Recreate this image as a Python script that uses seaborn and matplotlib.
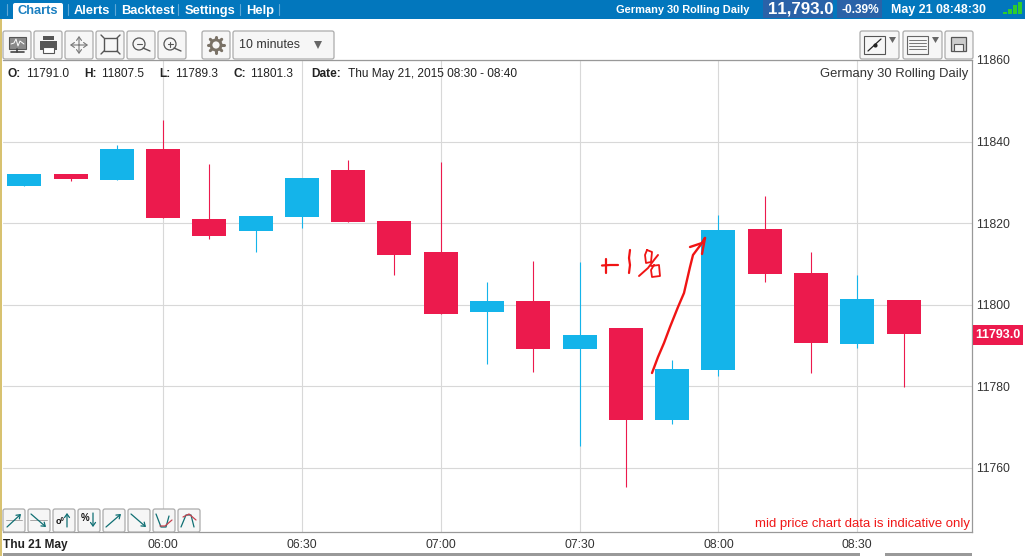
import pandas as pd
import seaborn as sns
from matplotlib import pyplot as plt
from matplotlib.patches import FancyBboxPatch, Rectangle, Circle, Polygon

# minutes from 06:00
minutes = [-30, -20, -10, 0, 10, 20, 30, 40, 50, 60, 70, 80, 90, 100, 110, 120, 130, 140, 150, 160]
opens = [11829.0, 11832.0, 11830.6, 11838.2, 11821.0, 11818.1, 11821.5, 11833.0, 11820.5, 11813.0,
         11798.2, 11800.9, 11789.2, 11794.3, 11771.8, 11784.0, 11818.6, 11807.8, 11790.4, 11801.2]
highs = [11832.0, 11832.1, 11839.2, 11845.3, 11834.5, 11821.8, 11831.1, 11835.5, 11820.5, 11835.0,
         11805.6, 11810.7, 11810.5, 11794.3, 11786.5, 11822.0, 11826.7, 11813.0, 11807.3, 11801.2]
lows = [11829.0, 11830.3, 11830.6, 11821.3, 11816.1, 11812.9, 11818.8, 11820.3, 11807.3, 11797.7,
        11785.5, 11783.5, 11765.4, 11755.3, 11770.8, 11782.5, 11805.6, 11783.3, 11789.4, 11779.9]
closes = [11832.0, 11830.8, 11838.2, 11821.3, 11816.9, 11821.8, 11831.1, 11820.3, 11812.2, 11797.7,
          11800.9, 11789.2, 11792.6, 11771.8, 11784.3, 11818.3, 11807.5, 11790.6, 11801.4, 11792.8]

x_ticks = [0, 30, 60, 90, 120, 150]
x_labels = ['06:00', '06:30', '07:00', '07:30', '08:00', '08:30']
y_ticks = [11760, 11780, 11800, 11820, 11840, 11860]

BLUE = '#14b4ea'
RED = '#ec1a4d'
FONT = 'Liberation Sans'

sns.set_style('white')
plt.rcParams['font.family'] = FONT
plt.rcParams['text.kerning_factor'] = 6

df = pd.DataFrame({'t': minutes, 'o': opens, 'h': highs, 'l': lows, 'c': closes})
df['bottom'] = df[['o', 'c']].min(axis=1)
df['size'] = (df['c'] - df['o']).abs()
df['up'] = df['c'] >= df['o']

fig = plt.figure(figsize=(10.25, 5.56), dpi=100)
ax = fig.add_axes([3 / 1025, 1 - 532 / 556, 969 / 1025, 472 / 556])

# candle bodies and wicks
for up, color in [(True, BLUE), (False, RED)]:
    part = df[df['up'] == up]
    ax.vlines(part['t'], part['l'], part['h'], color=color, lw=0.8, zorder=2)
    sns.barplot(data=part, x='t', y='size', bottom=part['bottom'].values, native_scale=True,
                width=7.35 / part['t'].diff().min(), color=color, saturation=1, errorbar=None,
                linewidth=0, ax=ax, zorder=3)

ax.set_xlim(-34.6, 174.8)
ax.set_ylim(11744.3, 11860)
ax.set_xticks(x_ticks, x_labels)
ax.set_yticks(y_ticks)
ax.yaxis.tick_right()
ax.set_xlabel('')
ax.set_ylabel('')
ax.grid(True, color='#d8d8d8', lw=0.8)
ax.set_axisbelow(True)
ax.tick_params(axis='both', length=0, labelsize=8.8, colors='#333333')
ax.tick_params(axis='x', pad=5)
ax.tick_params(axis='y', pad=3)
for s in ax.spines.values():
    s.set_color('#999999')
    s.set_linewidth(0.9)
ax.spines['left'].set_visible(False)

# overlay in pixel coordinates for the trading platform chrome
ui = fig.add_axes([0, 0, 1, 1], facecolor='none', zorder=5)
ui.set_xlim(0, 1025)
ui.set_ylim(556, 0)
ui.axis('off')


def label(x, y, s, size=8.6, color='#222222', weight='normal', ha='left'):
    ui.text(x, y, s, fontsize=size, color=color, fontweight=weight, ha=ha, va='center', family=FONT)


def button(x0, x1, y0, y1):
    ui.add_patch(FancyBboxPatch((x0 + 2, y0 + 2), x1 - x0 - 4, y1 - y0 - 4, boxstyle='round,pad=2',
                                fc='#f6f6f6', ec='#ababab', lw=0.9))


def line(xs, ys, color='#555555', lw=1.0):
    ui.plot(xs, ys, color=color, lw=lw, solid_capstyle='round')


def arrow(x0, y0, x1, y1, color='#0f6f73', lw=0.9):
    ui.annotate('', xy=(x1, y1), xytext=(x0, y0),
                arrowprops=dict(arrowstyle='->,head_length=0.25,head_width=0.18', color=color, lw=lw,
                                shrinkA=0, shrinkB=0))


# top bar
ui.add_patch(Rectangle((0, 0), 1025, 19, fc='#0277bd', ec='none'))
ui.add_patch(FancyBboxPatch((15, 5), 46, 16, boxstyle='round,pad=2', fc='white', ec='none'))
ui.add_patch(Rectangle((0, 19), 1025, 12, fc='white', ec='none'))
label(18, 11, 'Charts', 9.3, '#1a7fc0', 'bold')
for x, s in [(74, 'Alerts'), (121, 'Backtest'), (185, 'Settings'), (246, 'Help')]:
    label(x, 11, s, 9.3, 'white', 'bold')
for x in [7, 68, 115, 178, 240, 279]:
    line([x, x], [4, 15], '#5fa8d6', 0.8)
label(616, 10, 'Germany 30 Rolling Daily', 7.9, 'white', 'bold')
ui.add_patch(Rectangle((763, 0), 70, 18, fc='#2a62a8', ec='none'))
ui.add_patch(Rectangle((837, 0), 45, 18, fc='#2a62a8', ec='none'))
label(768, 9, '11,793.0', 12.2, 'white', 'bold')
label(842, 10, '-0.39%', 8.6, 'white', 'bold')
label(891, 10, 'May 21 08:48:30', 8.9, 'white', 'bold')
for i, h in enumerate([2, 5, 9, 12]):
    ui.add_patch(Rectangle((1003 + i * 5, 14 - h), 3.5, h, fc='#2ecc2e', ec='none'))
# gold strip on the left edge
ui.add_patch(Rectangle((0, 19), 2, 537, fc='#d8c270', ec='none'))

# upper toolbar
for x0, x1 in [(3, 31), (34, 62), (65, 93), (96, 124), (127, 155), (158, 186), (202, 230), (233, 334),
               (860, 899), (903, 942), (945, 973)]:
    button(x0, x1, 31, 59)
# monitor
ui.add_patch(Rectangle((9, 37), 17, 12, fc='#8a8a8a', ec='#555555', lw=0.8))
line([11, 14, 16, 18, 20, 24], [44, 43, 39, 46, 41, 44], 'white', 0.7)
line([17, 17], [49, 52], '#444444', 1.2)
line([11, 24], [52, 52], '#444444', 1.2)
# printer
ui.add_patch(Rectangle((40, 41), 17, 9, fc='#555555', ec='none'))
ui.add_patch(Rectangle((43, 36), 11, 4, fc='#555555', ec='none'))
ui.add_patch(Rectangle((43, 47), 11, 6, fc='white', ec='#555555', lw=0.8))
# move
arrow(79, 45, 70, 45, '#777777', 0.8)
arrow(79, 45, 88, 45, '#777777', 0.8)
arrow(79, 45, 79, 36, '#777777', 0.8)
arrow(79, 45, 79, 54, '#777777', 0.8)
# fit
ui.add_patch(Rectangle((104, 38), 13, 13, fc='none', ec='#555555', lw=1))
for xs, ys in [([101, 104], [35, 38]), ([120, 117], [35, 38]), ([101, 104], [54, 51]), ([120, 117], [54, 51])]:
    line(xs, ys)
# zoom out / in
for cx, sign in [(139, '-'), (170, '+')]:
    ui.add_patch(Circle((cx, 44), 6, fc='none', ec='#555555', lw=0.9))
    line([cx + 4, cx + 11], [48, 51])
    line([cx - 2.5, cx + 2.5], [44, 44], lw=0.8)
    if sign == '+':
        line([cx, cx], [41.5, 46.5], lw=0.8)
# settings cog
line([208, 224], [45, 45], '#7a7267', 2.2)
line([216, 216], [37, 53], '#7a7267', 2.2)
line([210.3, 221.7], [39.3, 50.7], '#7a7267', 2.2)
line([210.3, 221.7], [50.7, 39.3], '#7a7267', 2.2)
ui.add_patch(Circle((216, 45), 6.5, fc='#7a7267', ec='none', zorder=3))
ui.add_patch(Circle((216, 45), 3.6, fc='#f6f6f6', ec='none', zorder=4))
label(239, 45, '10 minutes', 8.9, '#333333')
ui.add_patch(Polygon([[314, 41], [322, 41], [318, 49]], fc='#666666', ec='none'))
# drawing tools, list, save
ui.add_patch(Rectangle((864, 36), 21, 18, fc='#f6f6f6', ec='#555555', lw=0.8))
line([868, 881], [51, 39], '#222222', 0.9)
ui.plot(874.5, 45, marker='o', ms=2, color='#222222')
ui.add_patch(Polygon([[889, 37], [896, 37], [892.5, 43]], fc='#666666', ec='none'))
ui.add_patch(Rectangle((907, 36), 21, 18, fc='#f6f6f6', ec='#666666', lw=0.8))
for y in [40, 43, 46, 49]:
    line([909, 926], [y, y], '#777777', 0.7)
ui.add_patch(Polygon([[932, 37], [939, 37], [935.5, 43]], fc='#666666', ec='none'))
ui.add_patch(Rectangle((951, 37), 15, 14, fc='#cccccc', ec='#555555', lw=0.9))
ui.add_patch(Rectangle((954, 44), 9, 7, fc='#f2f2f2', ec='#555555', lw=0.8))

# OHLC readout
label(7, 74, 'O:', 8.6, '#222222', 'bold')
label(26, 74, '11791.0')
label(84, 74, 'H:', 8.6, '#222222', 'bold')
label(101, 74, '11807.5')
label(159, 74, 'L:', 8.6, '#222222', 'bold')
label(175, 74, '11789.3')
label(233, 74, 'C:', 8.6, '#222222', 'bold')
label(250, 74, '11801.3')
label(311, 74, 'Date:', 8.6, '#222222', 'bold')
label(348, 74, 'Thu May 21, 2015 08:30 - 08:40')
label(968, 74, 'Germany 30 Rolling Daily', 9.35, '#333333', ha='right')

# lower drawing tools
for i in range(8):
    button(3 + i * 25, 25 + i * 25, 509, 532)
TEAL = '#0f6f73'
line([6, 22], [520, 520], '#999999', 0.6)
line([30, 47], [520, 520], '#999999', 0.6)
arrow(7, 527, 21, 514)
arrow(31, 514, 46, 527)
arrow(67, 527, 67, 513)
arrow(93, 513, 93, 527)
arrow(106, 527, 121, 514)
arrow(131, 514, 146, 527)
label(56, 522, 'oº', 6.5, '#111111', 'bold')
label(81, 518, '%', 7, '#111111', 'bold')
line([156, 161, 166, 169], [514, 527, 527, 516], TEAL, 0.9)
line([160, 165, 172], [526, 526, 520], '#c8424f', 0.9)
line([181, 186, 191, 194], [527, 515, 515, 527], TEAL, 0.9)
line([183, 189, 196], [517, 514, 520], '#c8424f', 0.9)

# date label, disclaimer, last price tag, slider strip
label(3, 545, 'Thu 21 May', 8.6, '#222222', 'bold')
label(970, 524, 'mid price chart data is indicative only', 9.45, '#f01818', ha='right')
ui.add_patch(Rectangle((973, 325), 50, 20, fc=RED, ec='none'))
label(998, 335, '11793.0', 9, 'white', 'bold', ha='center')
ui.add_patch(Rectangle((3, 553), 969, 3, fc='#999999', ec='none'))
ui.add_patch(Rectangle((860, 553), 25, 3, fc='white', ec='none'))

# hand drawn marks
HAND = '#f01414'
line([602, 610, 618], [265.5, 265, 265], HAND, 1.6)
line([606, 606], [259, 273], HAND, 1.6)
line([630, 629, 630, 629], [250, 258, 265, 273], HAND, 1.6)
line([639, 648, 654, 658], [276, 268, 260, 255], HAND, 1.4)
line([647, 652, 651, 646, 645, 647], [250, 252, 262, 263, 255, 250], HAND, 1.3)
line([651, 659, 660, 652, 651, 654], [266, 265, 276, 277, 270, 265], HAND, 1.3)
line([652, 658, 664, 670, 678, 684, 687, 690, 693, 702, 705],
     [373, 357, 343, 327, 307, 293, 280, 267, 255, 243, 238], HAND, 1.7)
line([690, 702, 705], [247, 243, 238], HAND, 1.7)
line([702, 705], [254, 238], HAND, 1.7)

fig.savefig('out.png', dpi=100)
